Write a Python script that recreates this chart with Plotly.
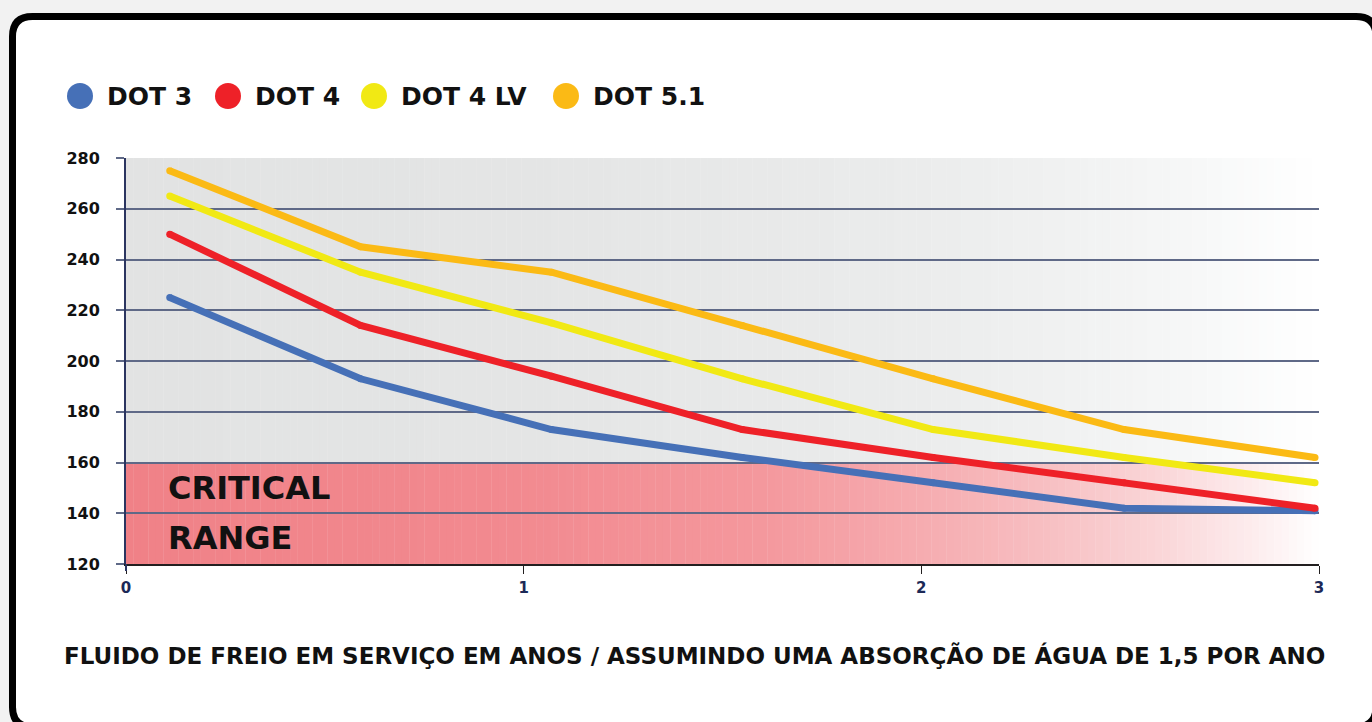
import plotly.graph_objects as go

# ---------------- data ----------------
YEARS = [0.11, 0.59, 1.07, 1.55, 2.03, 2.51, 2.99]
SERIES_NAMES = ["DOT 3", "DOT 4", "DOT 4 LV", "DOT 5.1"]
DOT3 = [225, 193, 173, 162, 152, 142, 141]
DOT4 = [250, 214, 194, 173, 162, 152, 142]
DOT4LV = [265, 235, 215, 193, 173, 162, 152]
DOT51 = [275, 245, 235, 214, 193, 173, 162]
Y_TICKS = [120, 140, 160, 180, 200, 220, 240, 260, 280]
X_TICKS = [0, 1, 2, 3]
X_RANGE = [0, 3]
Y_RANGE = [120, 280]
CRITICAL_RANGE = [120, 160]
CRITICAL_LABEL = ["CRITICAL", "RANGE"]
X_TITLE = "FLUIDO DE FREIO EM SERVIÇO EM ANOS / ASSUMINDO UMA ABSORÇÃO DE ÁGUA DE 1,5 POR ANO"

# ---------------- styles ----------------
COLORS = ["#4670B7", "#EE2128", "#F1E914", "#FBBA15"]
FONT = "DejaVu Sans"
W, H = 1372, 722
ML, MR, MT, MB = 126, 53, 158, 158
PW, PH = W - ML - MR, H - MT - MB

GRAY_STOPS = [(0.0, (226, 227, 227)), (1.0, (228, 229, 229)), (2.0, (235, 236, 236)),
              (2.4, (241, 242, 242)), (2.7, (247, 248, 248)), (3.0, (255, 255, 255))]
PINK_STOPS = [(0.0, (240, 129, 135)), (1.0, (242, 138, 144)), (1.6, (244, 152, 157)),
              (2.0, (246, 172, 176)), (2.3, (247, 190, 193)), (2.6, (250, 214, 216)),
              (2.85, (253, 238, 239)), (3.0, (255, 255, 255))]


def interp(stops, x):
    for (a, ca), (b, cb) in zip(stops[:-1], stops[1:]):
        if a <= x <= b:
            t = (x - a) / (b - a) if b > a else 0
            c = [round(ca[k] + (cb[k] - ca[k]) * t) for k in range(3)]
            return "rgb(%d,%d,%d)" % tuple(c)
    c = stops[-1][1] if x > stops[-1][0] else stops[0][1]
    return "rgb(%d,%d,%d)" % tuple(c)


def pxx(x):
    return (x - ML) / PW


def pxy(y):
    return (H - MB - y) / PH


shapes = []

# card with rounded corners
l, t, r, b, rad = 12.5, 16.5, 1376, 727, 20
pts = [
    ("M", [(l + rad, t)]), ("L", [(r - rad, t)]), ("Q", [(r, t), (r, t + rad)]),
    ("L", [(r, b - rad)]), ("Q", [(r, b), (r - rad, b)]), ("L", [(l + rad, b)]),
    ("Q", [(l, b), (l, b - rad)]), ("L", [(l, t + rad)]), ("Q", [(l, t), (l + rad, t)]),
]
path = ""
for cmd, ps in pts:
    path += cmd + " " + " ".join("%.5f,%.5f" % (pxx(x), pxy(y)) for x, y in ps) + " "
path += "Z"
shapes.append(dict(type="path", path=path, xref="paper", yref="paper", layer="below",
                   fillcolor="white", line=dict(color="black", width=7)))

# gradient background strips
N = 160
span = X_RANGE[1] - X_RANGE[0]
wstep = span / N
for i in range(N):
    x0 = X_RANGE[0] + i * wstep
    x1 = min(X_RANGE[1], x0 + wstep * 1.05)
    xm = x0 + wstep / 2
    shapes.append(dict(type="rect", xref="x", yref="y", layer="below", x0=x0, x1=x1,
                       y0=CRITICAL_RANGE[1], y1=Y_RANGE[1], line=dict(width=0),
                       fillcolor=interp(GRAY_STOPS, xm)))
    shapes.append(dict(type="rect", xref="x", yref="y", layer="below", x0=x0, x1=x1,
                       y0=CRITICAL_RANGE[0], y1=CRITICAL_RANGE[1], line=dict(width=0),
                       fillcolor=interp(PINK_STOPS, xm)))

# y axis extension below plot
shapes.append(dict(type="line", xref="paper", yref="paper", x0=0, x1=0, y0=pxy(564), y1=pxy(571),
                   line=dict(color="#2B3560", width=2)))

fig = go.Figure()
for name, vals, col in zip(SERIES_NAMES, [DOT3, DOT4, DOT4LV, DOT51], COLORS):
    fig.add_trace(go.Scatter(x=YEARS, y=vals, name=name, mode="lines+markers",
                             line=dict(color=col, width=7),
                             marker=dict(color=col, size=7, line=dict(width=0)),
                             hoverinfo="skip", showlegend=False, cliponaxis=False))

annotations = []
# legend built from circles + labels
legend_circle_x = [80, 228, 374, 566]
legend_y = 96
for name, col, cx in zip(SERIES_NAMES, COLORS, legend_circle_x):
    shapes.append(dict(type="circle", xref="paper", yref="paper", layer="above",
                       x0=pxx(cx - 13), x1=pxx(cx + 13), y0=pxy(legend_y + 13), y1=pxy(legend_y - 13),
                       fillcolor=col, line=dict(width=0)))
    annotations.append(dict(text=name, xref="paper", yref="paper", x=pxx(cx + 25), y=pxy(legend_y + 1),
                            xanchor="left", yanchor="middle", showarrow=False,
                            font=dict(family=FONT, size=25, color="#111111", weight=700)))

# critical range label
for txt, yy in zip(CRITICAL_LABEL, [488, 538]):
    annotations.append(dict(text=txt, xref="paper", yref="paper", x=pxx(166), y=pxy(yy),
                            xanchor="left", yanchor="middle", showarrow=False,
                            font=dict(family=FONT, size=32, color="#111111", weight=700)))

# x axis title
annotations.append(dict(text=X_TITLE, xref="paper", yref="paper", x=pxx(694), y=pxy(655),
                        xanchor="center", yanchor="middle", showarrow=False,
                        font=dict(family=FONT, size=23, color="#111111", weight=700)))

fig.update_layout(
    width=W, height=H,
    margin=dict(l=ML, r=MR, t=MT, b=MB, pad=0),
    paper_bgcolor="#F2F2F2",
    plot_bgcolor="rgba(0,0,0,0)",
    showlegend=False,
    shapes=shapes,
    annotations=annotations,
    xaxis=dict(range=X_RANGE, tickvals=X_TICKS, ticktext=[str(v) for v in X_TICKS],
               showgrid=False, zeroline=False, showline=True, linecolor="#231F20", linewidth=2,
               ticks="outside", ticklen=8, tickwidth=1.2, tickcolor="#231F20",
               ticklabelstandoff=1,
               tickfont=dict(family=FONT, size=15, color="#1C2957", weight=700)),
    yaxis=dict(range=Y_RANGE, tickvals=Y_TICKS, ticktext=[str(v) for v in Y_TICKS],
               showgrid=True, gridcolor="#5F6987", gridwidth=1.7, zeroline=False,
               showline=True, linecolor="#2B3560", linewidth=2,
               ticks="outside", ticklen=8, tickwidth=1.5, tickcolor="#5F6987",
               ticklabelstandoff=13,
               tickfont=dict(family=FONT, size=16, color="#111111", weight=700)),
)

fig.write_html("out.html", config={"displayModeBar": False},
               post_script="document.body.style.margin='0';document.body.style.overflow='hidden';")
